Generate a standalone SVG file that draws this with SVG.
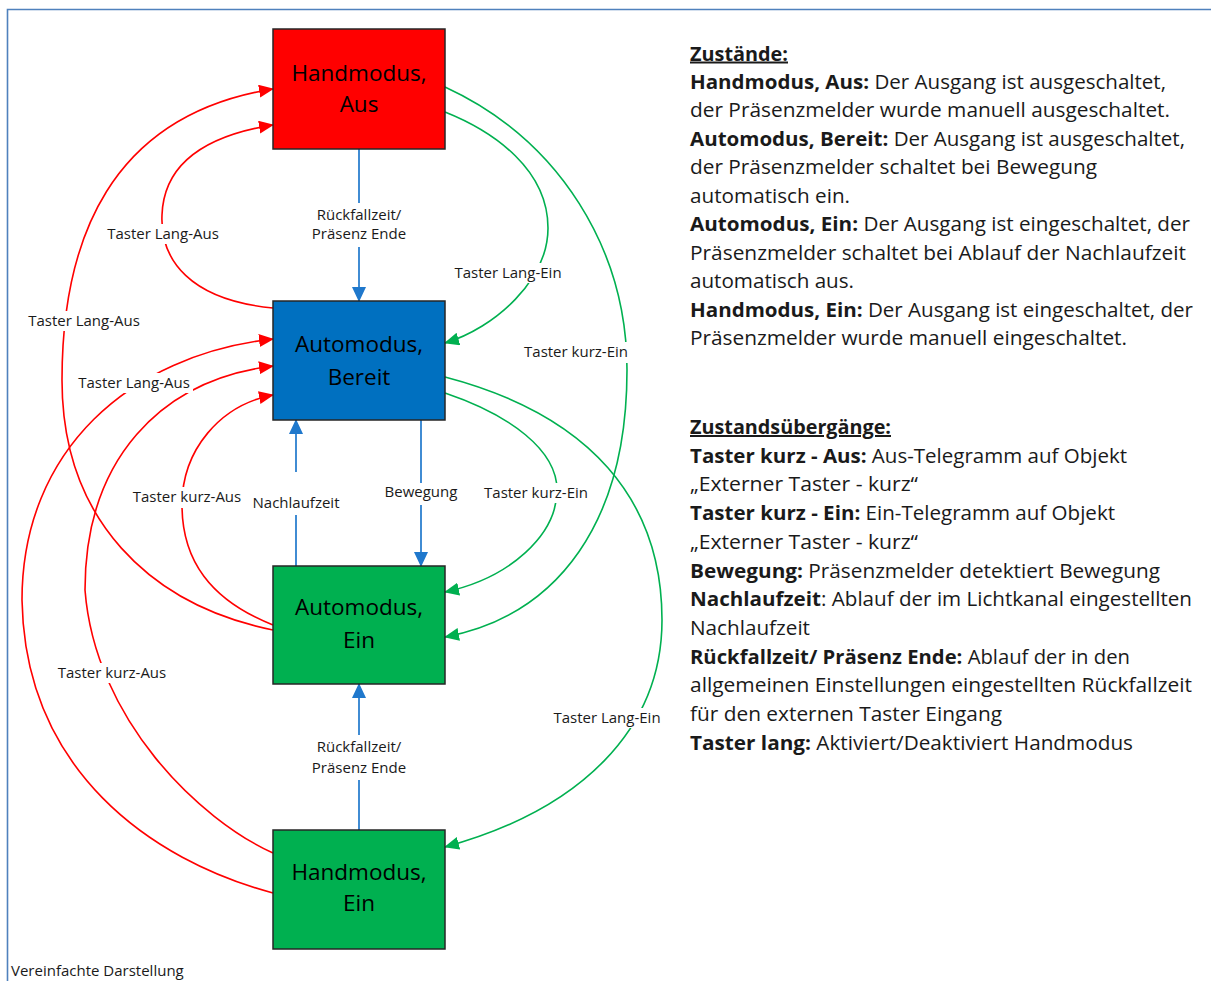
<svg xmlns="http://www.w3.org/2000/svg" width="1211" height="981" viewBox="0 0 1211 981">
<style>
.box{stroke:#262626;stroke-width:1.5}
.bt{font-family:"Open Sans","Liberation Sans",sans-serif;font-size:22.5px;fill:#000;text-anchor:middle}
.lb{font-family:"Open Sans","Liberation Sans",sans-serif;font-size:15px;fill:#1a1a1a;text-anchor:middle}
.bg{fill:#fff}
.r{fill:none;stroke:#FF0000;stroke-width:1.6;marker-end:url(#ar)}
.g{fill:none;stroke:#00B050;stroke-width:1.6;marker-end:url(#ag)}
.b{fill:none;stroke:#1F78CC;stroke-width:1.7;marker-end:url(#ab)}
.tx{font-family:"Open Sans","Liberation Sans",sans-serif;font-size:20px;fill:#1a1a1a}
.bd{font-weight:bold}
</style>
<defs>
<marker id="ar" markerWidth="15" markerHeight="13" refX="14" refY="6.5" orient="auto" markerUnits="userSpaceOnUse"><path d="M0,0 L15,6.5 L0,13 z" fill="#FF0000"/></marker>
<marker id="ag" markerWidth="15" markerHeight="13" refX="14" refY="6.5" orient="auto" markerUnits="userSpaceOnUse"><path d="M0,0 L15,6.5 L0,13 z" fill="#00B050"/></marker>
<marker id="ab" markerWidth="15" markerHeight="14" refX="14" refY="7" orient="auto" markerUnits="userSpaceOnUse"><path d="M0,0 L15,7 L0,14 z" fill="#1F78CC"/></marker>
</defs>
<rect width="1211" height="981" fill="#fff"/>
<path d="M7.5,981 L7.5,9.5 L1211,9.5" fill="none" stroke="#4F81BD" stroke-width="1.6"/>

<g id="connectors">
<path class="b" d="M359,149 L359,301"/>
<path class="b" d="M296,566 L296,420"/>
<path class="b" d="M421,420 L421,566"/>
<path class="b" d="M359,830 L359,684"/>
<path class="r" d="M273,630 C150,605 62,520 62,380 C62,240 110,115 273,89"/>
<path class="r" d="M273,308 C190,300 160,260 162,215 C164,160 210,135 273,125"/>
<path class="r" d="M273,893 C150,860 25,770 22,600 C22,450 130,355 273,339"/>
<path class="r" d="M273,853 C200,820 95,720 85,590 C85,460 160,380 273,366"/>
<path class="r" d="M273,625 C210,600 182,560 182,505 C182,450 220,405 273,395"/>
<path class="g" d="M445,112 C495,132 548,170 548,228 C548,280 495,328 445,343"/>
<path class="g" d="M445,87 C560,140 627,250 627,370 C627,520 560,615 445,637"/>
<path class="g" d="M445,393 C510,415 557,450 557,490 C557,535 510,578 445,592"/>
<path class="g" d="M445,377 C590,415 662,500 662,620 C662,730 580,810 445,847"/>
</g>

<g id="labels">
<rect class="bg" x="312" y="203" width="94" height="44"/>
<text class="lb" x="359" y="220">Rückfallzeit/</text>
<text class="lb" x="359" y="239">Präsenz Ende</text>
<rect class="bg" x="105" y="224" width="117" height="20"/>
<text class="lb" x="163" y="239">Taster Lang-Aus</text>
<rect class="bg" x="451" y="263" width="114" height="20"/>
<text class="lb" x="508" y="278">Taster Lang-Ein</text>
<rect class="bg" x="521" y="342" width="110" height="21"/>
<text class="lb" x="576" y="357">Taster kurz-Ein</text>
<rect class="bg" x="25" y="311" width="118" height="20"/>
<text class="lb" x="84" y="326">Taster Lang-Aus</text>
<rect class="bg" x="75" y="373" width="118" height="20"/>
<text class="lb" x="134" y="388">Taster Lang-Aus</text>
<rect class="bg" x="130" y="487" width="114" height="21"/>
<text class="lb" x="187" y="502">Taster kurz-Aus</text>
<rect class="bg" x="250" y="472" width="93" height="43"/>
<text class="lb" x="296" y="508">Nachlaufzeit</text>
<rect class="bg" x="382" y="483" width="79" height="22"/>
<text class="lb" x="421" y="497">Bewegung</text>
<rect class="bg" x="481" y="483" width="110" height="20"/>
<text class="lb" x="536" y="498">Taster kurz-Ein</text>
<rect class="bg" x="55" y="663" width="115" height="20"/>
<text class="lb" x="112" y="678">Taster kurz-Aus</text>
<rect class="bg" x="551" y="708" width="113" height="20"/>
<text class="lb" x="607" y="723">Taster Lang-Ein</text>
<rect class="bg" x="312" y="735" width="94" height="45"/>
<text class="lb" x="359" y="752">Rückfallzeit/</text>
<text class="lb" x="359" y="773">Präsenz Ende</text>
<text class="lb" x="11" y="976" style="text-anchor:start">Vereinfachte Darstellung</text>
</g>

<g id="handmodus-aus">
<rect class="box" x="273" y="29" width="172" height="120" fill="#FF0000"/>
<text class="bt" x="359" y="81">Handmodus,</text>
<text class="bt" x="359" y="112">Aus</text>
</g>
<g id="automodus-bereit">
<rect class="box" x="273" y="301" width="172" height="119" fill="#0070C0"/>
<text class="bt" x="359" y="352">Automodus,</text>
<text class="bt" x="359" y="385">Bereit</text>
</g>
<g id="automodus-ein">
<rect class="box" x="273" y="566" width="172" height="118" fill="#00B050"/>
<text class="bt" x="359" y="615">Automodus,</text>
<text class="bt" x="359" y="648">Ein</text>
</g>
<g id="handmodus-ein">
<rect class="box" x="273" y="830" width="172" height="119" fill="#00B050"/>
<text class="bt" x="359" y="880">Handmodus,</text>
<text class="bt" x="359" y="911">Ein</text>
</g>

<g id="zustaende">
<text class="tx bd" x="690" y="60.5" textLength="98" lengthAdjust="spacingAndGlyphs" text-decoration="underline">Zustände:</text>
<text class="tx" x="690" y="89" textLength="476" lengthAdjust="spacingAndGlyphs"><tspan class="bd">Handmodus, Aus:</tspan> Der Ausgang ist ausgeschaltet,</text>
<text class="tx" x="690" y="117.4" textLength="480" lengthAdjust="spacingAndGlyphs">der Präsenzmelder wurde manuell ausgeschaltet.</text>
<text class="tx" x="690" y="145.9" textLength="495" lengthAdjust="spacingAndGlyphs"><tspan class="bd">Automodus, Bereit:</tspan> Der Ausgang ist ausgeschaltet,</text>
<text class="tx" x="690" y="174.3" textLength="407" lengthAdjust="spacingAndGlyphs">der Präsenzmelder schaltet bei Bewegung</text>
<text class="tx" x="690" y="202.8" textLength="160" lengthAdjust="spacingAndGlyphs">automatisch ein.</text>
<text class="tx" x="690" y="231.2" textLength="500" lengthAdjust="spacingAndGlyphs"><tspan class="bd">Automodus, Ein:</tspan> Der Ausgang ist eingeschaltet, der</text>
<text class="tx" x="690" y="259.7" textLength="496" lengthAdjust="spacingAndGlyphs">Präsenzmelder schaltet bei Ablauf der Nachlaufzeit</text>
<text class="tx" x="690" y="288.1" textLength="164" lengthAdjust="spacingAndGlyphs">automatisch aus.</text>
<text class="tx" x="690" y="316.6" textLength="503" lengthAdjust="spacingAndGlyphs"><tspan class="bd">Handmodus, Ein:</tspan> Der Ausgang ist eingeschaltet, der</text>
<text class="tx" x="690" y="345" textLength="437" lengthAdjust="spacingAndGlyphs">Präsenzmelder wurde manuell eingeschaltet.</text>
</g>

<g id="zustandsuebergaenge">
<text class="tx bd" x="690" y="434" textLength="201" lengthAdjust="spacingAndGlyphs" text-decoration="underline">Zustandsübergänge:</text>
<text class="tx" x="690" y="462.7" textLength="437" lengthAdjust="spacingAndGlyphs"><tspan class="bd">Taster kurz - Aus:</tspan> Aus-Telegramm auf Objekt</text>
<text class="tx" x="690" y="491.4" textLength="228" lengthAdjust="spacingAndGlyphs">„Externer Taster - kurz“</text>
<text class="tx" x="690" y="520.1" textLength="425" lengthAdjust="spacingAndGlyphs"><tspan class="bd">Taster kurz - Ein:</tspan> Ein-Telegramm auf Objekt</text>
<text class="tx" x="690" y="548.8" textLength="228" lengthAdjust="spacingAndGlyphs">„Externer Taster - kurz“</text>
<text class="tx" x="690" y="577.5" textLength="470" lengthAdjust="spacingAndGlyphs"><tspan class="bd">Bewegung:</tspan> Präsenzmelder detektiert Bewegung</text>
<text class="tx" x="690" y="606.2" textLength="502" lengthAdjust="spacingAndGlyphs"><tspan class="bd">Nachlaufzeit</tspan>: Ablauf der im Lichtkanal eingestellten</text>
<text class="tx" x="690" y="634.9" textLength="120" lengthAdjust="spacingAndGlyphs">Nachlaufzeit</text>
<text class="tx" x="690" y="663.6" textLength="440" lengthAdjust="spacingAndGlyphs"><tspan class="bd">Rückfallzeit/ Präsenz Ende:</tspan> Ablauf der in den</text>
<text class="tx" x="690" y="692.3" textLength="502" lengthAdjust="spacingAndGlyphs">allgemeinen Einstellungen eingestellten Rückfallzeit</text>
<text class="tx" x="690" y="721" textLength="312" lengthAdjust="spacingAndGlyphs">für den externen Taster Eingang</text>
<text class="tx" x="690" y="749.7" textLength="443" lengthAdjust="spacingAndGlyphs"><tspan class="bd">Taster lang:</tspan> Aktiviert/Deaktiviert Handmodus</text>
</g>
</svg>
